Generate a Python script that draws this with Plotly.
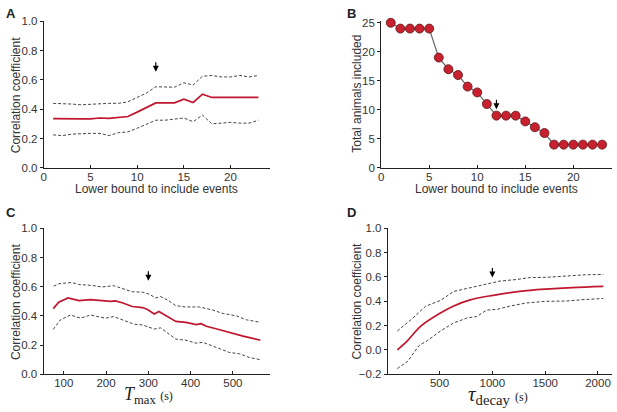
from plotly import graph_objects as go

# Panel A: correlation vs lower bound on number of events
events_x = list(range(1, 24))
corr_a = [0.336, 0.334, 0.334, 0.334, 0.334, 0.34, 0.338, 0.345, 0.35, 0.38, 0.41, 0.443,
          0.443, 0.443, 0.468, 0.446, 0.503, 0.48, 0.48, 0.48, 0.48, 0.48, 0.48]
upper_a = [0.44, 0.44, 0.435, 0.43, 0.435, 0.44, 0.44, 0.44, 0.45, 0.48, 0.51, 0.553,
           0.55, 0.55, 0.58, 0.565, 0.625, 0.63, 0.62, 0.62, 0.63, 0.62, 0.63]
lower_a = [0.225, 0.22, 0.23, 0.235, 0.235, 0.235, 0.22, 0.24, 0.245, 0.27, 0.3, 0.325,
           0.325, 0.33, 0.34, 0.315, 0.36, 0.3, 0.305, 0.31, 0.305, 0.305, 0.325]

# Panel B: animals left after the cut
animals_b = [25, 24, 24, 24, 24, 19, 17, 16, 14, 13, 11, 9, 9, 9, 8, 7, 6, 4, 4, 4, 4, 4, 4]

# Panel C: correlation vs T_max
tmax_red_x = [75, 88, 110, 136, 163, 190, 210, 222, 238, 262, 286, 298, 314, 325, 345,
              365, 389, 413, 425, 437, 460, 492, 524, 565]
tmax_red_y = [0.45, 0.494, 0.523, 0.505, 0.512, 0.503, 0.499, 0.503, 0.49, 0.464, 0.457,
              0.444, 0.413, 0.43, 0.395, 0.362, 0.356, 0.34, 0.347, 0.329, 0.312, 0.285,
              0.261, 0.233]
tmax_up_x = [76, 88, 119, 135, 167, 190, 218, 238, 262, 286, 302, 317, 329, 345, 365,
             389, 421, 452, 476, 508, 532, 565]
tmax_up_y = [0.604, 0.62, 0.629, 0.615, 0.609, 0.598, 0.607, 0.587, 0.565, 0.563, 0.549,
             0.523, 0.532, 0.51, 0.47, 0.461, 0.461, 0.44, 0.417, 0.4, 0.373, 0.356]
tmax_lo_x = [75, 92, 116, 140, 163, 198, 218, 242, 266, 286, 314, 329, 345, 365, 389,
             413, 429, 460, 492, 516, 540, 565]
tmax_lo_y = [0.307, 0.373, 0.406, 0.384, 0.406, 0.384, 0.395, 0.369, 0.343, 0.338, 0.31,
             0.318, 0.285, 0.241, 0.233, 0.213, 0.219, 0.186, 0.149, 0.14, 0.114, 0.1]

# Panel D: correlation vs tau_decay
tau_red_x = [100, 197, 322, 500, 634, 790, 1008, 1258, 1507, 1757, 2050]
tau_red_y = [0.0, 0.077, 0.196, 0.30, 0.362, 0.412, 0.449, 0.481, 0.5, 0.513, 0.523]
tau_up_x = [100, 229, 369, 509, 634, 759, 946, 1071, 1227, 1352, 1507, 1695, 1882, 2050]
tau_up_y = [0.156, 0.248, 0.36, 0.407, 0.481, 0.505, 0.547, 0.566, 0.579, 0.595, 0.597,
            0.61, 0.618, 0.621]
tau_lo_x = [100, 197, 307, 385, 509, 634, 759, 852, 946, 1040, 1164, 1320, 1507, 1695,
            1882, 2050]
tau_lo_y = [-0.153, -0.095, 0.037, 0.077, 0.156, 0.222, 0.262, 0.275, 0.328, 0.333, 0.36,
            0.386, 0.4, 0.402, 0.415, 0.423]

W, H = 617, 412
RED = "#c0172e"
DASH = "#444444"
TXT = "#333333"
FONT = "Liberation Sans, Arial, sans-serif"
SERIF = "Liberation Serif, DejaVu Serif, serif"


def px_x(a, b):
    return [a / W, b / W]


def px_y(top, bottom):
    return [(H - bottom) / H, (H - top) / H]


def red_line(x, y, xa, ya, shape="linear"):
    return go.Scatter(x=x, y=y, mode="lines", xaxis=xa, yaxis=ya,
                      line=dict(color=RED, width=1.7, shape=shape), showlegend=False)


def dash_line(x, y, xa, ya):
    return go.Scatter(x=x, y=y, mode="lines", xaxis=xa, yaxis=ya,
                      line=dict(color=DASH, width=1, dash="3px,2px"),
                      showlegend=False)


fig = go.Figure()
fig.add_trace(dash_line(events_x, upper_a, "x", "y"))
fig.add_trace(dash_line(events_x, lower_a, "x", "y"))
fig.add_trace(red_line(events_x, corr_a, "x", "y"))

fig.add_trace(go.Scatter(
    x=events_x, y=animals_b, mode="lines+markers", xaxis="x2", yaxis="y2",
    line=dict(color="#666666", width=1.2),
    marker=dict(color="#c8202f", size=9, line=dict(color="#5a1515", width=0.8)),
    cliponaxis=False, showlegend=False,
))

fig.add_trace(dash_line(tmax_up_x, tmax_up_y, "x3", "y3"))
fig.add_trace(dash_line(tmax_lo_x, tmax_lo_y, "x3", "y3"))
fig.add_trace(red_line(tmax_red_x, tmax_red_y, "x3", "y3"))

fig.add_trace(dash_line(tau_up_x, tau_up_y, "x4", "y4"))
fig.add_trace(dash_line(tau_lo_x, tau_lo_y, "x4", "y4"))
fig.add_trace(red_line(tau_red_x, tau_red_y, "x4", "y4", shape="spline"))

axis_common = dict(
    showline=True, linecolor="#222222", linewidth=1, showgrid=False, zeroline=False,
    ticklen=3, tickcolor="#222222", tickfont=dict(family=FONT, size=11.5, color=TXT),
)
x_common = dict(ticks="inside", ticklabelstandoff=-2, **axis_common)
y_common = dict(ticks="outside", **axis_common)

fig.update_layout(
    width=W, height=H,
    margin=dict(l=0, r=0, t=0, b=0),
    plot_bgcolor="white", paper_bgcolor="white",
    xaxis=dict(domain=px_x(41, 268), range=[0, 24.2], tickvals=[0, 5, 10, 15, 20],
               anchor="y", **x_common),
    yaxis=dict(domain=px_y(15.7, 166.7), range=[0, 1], tickvals=[0, 0.2, 0.4, 0.6, 0.8, 1.0],
               tickformat=".1f", anchor="x", **y_common),
    xaxis2=dict(domain=px_x(380, 611.7), range=[0, 24], tickvals=[0, 5, 10, 15, 20],
                anchor="y2", **x_common),
    yaxis2=dict(domain=px_y(15.5, 166.7), range=[0, 25.3], tickvals=[0, 5, 10, 15, 20, 25],
                anchor="x2", **y_common),
    xaxis3=dict(domain=px_x(40.7, 268), range=[52, 587], tickvals=[100, 200, 300, 400, 500],
                anchor="y3", **x_common),
    yaxis3=dict(domain=px_y(229, 379.3), range=[0, 1], tickvals=[0, 0.2, 0.4, 0.6, 0.8, 1.0],
                tickformat=".1f", anchor="x3", **y_common),
    xaxis4=dict(domain=px_x(386.7, 611.7), range=[10, 2130], tickvals=[500, 1000, 1500, 2000],
                anchor="y4", **x_common),
    yaxis4=dict(domain=px_y(229, 379.3), range=[-0.2, 1],
                tickvals=[-0.2, 0, 0.2, 0.4, 0.6, 0.8, 1.0],
                ticktext=["\u22120.2", "0.0", "0.2", "0.4", "0.6", "0.8", "1.0"],
                anchor="x4", **y_common),
)

# panel letters, axis titles and arrows placed in pixel terms
texts = [
    ("<b>A</b>", 8, 8, 13, 0),
    ("<b>B</b>", 350, 8, 13, 0),
    ("<b>C</b>", 8, 213, 13, 0),
    ("<b>D</b>", 350, 213, 13, 0),
    ("Correlation coefficient", 13, 91, 12, -90),
    ("Total animals included", 356, 90, 12, -90),
    ("Correlation coefficient", 13, 304, 12, -90),
    ("Correlation coefficient", 356, 304, 12, -90),
    ("Lower bound to include events", 154, 188, 12, 0),
    ("Lower bound to include events", 496, 188, 12, 0),
]
annotations = []
for t, x, y, size, ang in texts:
    annotations.append(dict(text=t, x=x / W, y=(H - y) / H, xref="paper", yref="paper",
                            showarrow=False, textangle=ang, xanchor="center", yanchor="middle",
                            font=dict(family=FONT, size=size,
                                      color="#222222" if "<b>" in t else TXT)))

annotations.append(dict(
    text="<i>T</i><sub>max</sub> <span style='font-size:12px'>(s)</span>",
    x=146 / W, y=(H - 401) / H, xref="paper", yref="paper", showarrow=False,
    xanchor="center", yanchor="middle", font=dict(family=SERIF, size=18, color="#222222")))
annotations.append(dict(
    text="<i>\u03c4</i><sub>decay</sub> <span style='font-size:12px'>(s)</span>",
    x=497 / W, y=(H - 401) / H, xref="paper", yref="paper", showarrow=False,
    xanchor="center", yanchor="middle", font=dict(family=SERIF, size=21, color="#222222")))

arrows = [("x", "y", 12, 0.655), ("x2", "y2", 12, 10.1), ("x3", "y3", 300, 0.64),
          ("x4", "y4", 1000, 0.595)]
for xa, ya, x, y in arrows:
    annotations.append(dict(x=x, y=y, xref=xa, yref=ya, ax=0, ay=-11, showarrow=True,
                            arrowhead=2, arrowsize=1, arrowwidth=1.2, arrowcolor="black",
                            text=""))

fig.update_layout(annotations=annotations)

# page body has a default 8px margin; drop it so the figure sits at the corner
fig.write_html("out.html", config={"displayModeBar": False},
               post_script="document.body.style.margin='0';")
